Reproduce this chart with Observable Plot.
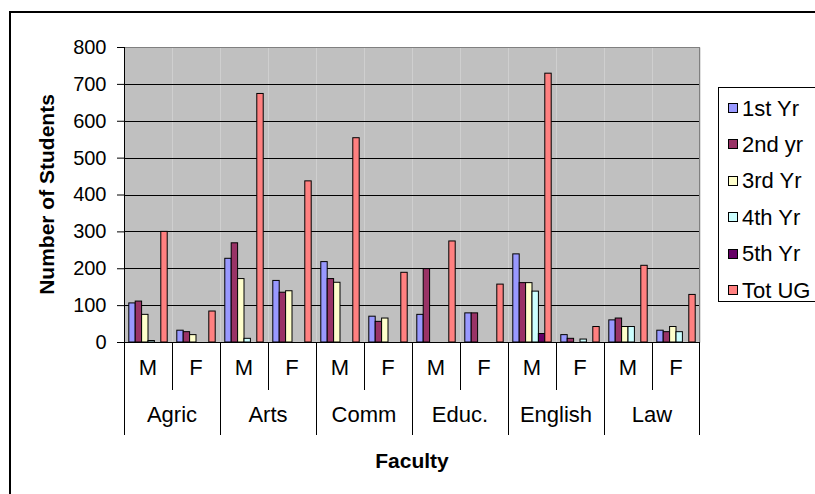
<!DOCTYPE html>
<html><head><meta charset="utf-8">
<script src="https://cdn.jsdelivr.net/npm/d3@7"></script>
<script src="https://cdn.jsdelivr.net/npm/@observablehq/plot@0.6"></script>
<style>
body{margin:0;background:#fff;}
#chart{position:relative;width:815px;height:494px;overflow:hidden;}
svg{display:block;}
</style></head><body><div id="chart"></div>
<script>
// ---- data ----
const faculties = ["Agric", "Arts", "Comm", "Educ.", "English", "Law"];
const genders = ["M", "F"];
const seriesNames = ["1st Yr", "2nd yr", "3rd Yr", "4th Yr", "5th Yr", "Tot UG"];
const seriesColors = ["#9999ff", "#993366", "#ffffcc", "#ccffff", "#660066", "#ff8080"];
const yTicks = [0, 100, 200, 300, 400, 500, 600, 700, 800];
// order: Agric M, Agric F, Arts M, Arts F, Comm M, Comm F, Educ M, Educ F, English M, English F, Law M, Law F
const firstYr  = [106, 32, 227, 167, 218, 70, 75, 79, 239, 20, 60, 32];
const secondYr = [111, 28, 269, 135, 172, 56, 199, 79, 161, 10, 65, 28];
const thirdYr  = [75, 20, 172, 139, 162, 65, 0, 0, 161, 0, 42, 42];
const fourthYr = [4, 0, 10, 0, 0, 0, 0, 0, 138, 8, 42, 28];
const fifthYr  = [0, 0, 0, 0, 0, 0, 0, 0, 23, 0, 0, 0];
const totUG    = [300, 84, 674, 437, 554, 189, 274, 157, 729, 42, 208, 129];
const xTitle = "Faculty";
const yTitle = "Number of Students";

// ---- build table ----
const seriesValues = [firstYr, secondYr, thirdYr, fourthYr, fifthYr, totUG];
const groups = faculties.flatMap(f => genders.map(g => f + "|" + g));
const rows = [];
groups.forEach((grp, i) => seriesNames.forEach((s, j) => {
  const v = seriesValues[j][i];
  if (v > 0) rows.push({group: grp, series: s, value: v});
}));

const W = 815, H = 494, mL = 124, mR = 115, mT = 47, mB = 152;
const FONT = "'Liberation Sans', Arial, sans-serif";

const chart = Plot.plot({
  width: W, height: H,
  marginLeft: mL, marginRight: mR, marginTop: mT, marginBottom: mB,
  style: {fontFamily: FONT, fontSize: "20px", color: "#000", background: "transparent", overflow: "visible"},
  facet: {data: rows, x: "group"},
  fx: {domain: groups, padding: 0, axis: null, round: false, label: null},
  x: {domain: seriesNames, paddingInner: 0, paddingOuter: 0.75, axis: null, round: false},
  y: {domain: [0, 800], ticks: yTicks, tickSize: 7, tickPadding: 11, label: null, tickFormat: d => String(d)},
  color: {domain: seriesNames, range: seriesColors},
  marks: [
    Plot.frame({fill: "#c0c0c0"}),
    Plot.ruleY(yTicks.slice(1, -1), {stroke: "#000", strokeWidth: 1, shapeRendering: "crispEdges"}),
    Plot.barY(rows, {x: "series", y: "value", fill: "series", stroke: "#000", strokeWidth: 1})
  ]
});
document.getElementById("chart").appendChild(chart);

// ---- scale helpers ----
const fxS = chart.scale("fx");
const yS = chart.scale("y");
const step = (fxS.range[1] - fxS.range[0]) / groups.length;
const fxLeft = k => fxS.range[0] + groups.indexOf(k) * step;
const yPos = v => yS.range[0] + (v - yS.domain[0]) / (yS.domain[1] - yS.domain[0]) * (yS.range[1] - yS.range[0]);
const x0 = fxS.range[0], x1 = fxS.range[1];
const yBase = yPos(0), yTop = yPos(800);

const svg = d3.select(chart);
const g = svg.append("g").attr("font-family", FONT).attr("fill", "#000").attr("text-anchor", "start");

// plot area border (grey) + axes lines
g.append("line").attr("x1", x0).attr("x2", x1).attr("y1", yTop + 0.5).attr("y2", yTop + 0.5).attr("stroke", "#808080");
g.append("line").attr("x1", x1 - 0.5).attr("x2", x1 - 0.5).attr("y1", yTop).attr("y2", yBase).attr("stroke", "#808080");
g.append("line").attr("x1", x0 + 0.5).attr("x2", x0 + 0.5).attr("y1", yTop).attr("y2", yBase).attr("stroke", "#000");
g.append("line").attr("x1", x0).attr("x2", x1).attr("y1", yBase + 0.5).attr("y2", yBase + 0.5).attr("stroke", "#000");

// two-level category axis
const yGender = yBase + 48, yFaculty = yBase + 93;
faculties.forEach((f, fi) => {
  const left = fxLeft(f + "|M");
  const mid = fxLeft(f + "|F");
  g.append("line").attr("x1", Math.round(left) + 0.5).attr("x2", Math.round(left) + 0.5)
    .attr("y1", yBase).attr("y2", yFaculty).attr("stroke", "#000");
  g.append("line").attr("x1", Math.round(mid) + 0.5).attr("x2", Math.round(mid) + 0.5)
    .attr("y1", yBase).attr("y2", yGender).attr("stroke", "#000");
  genders.forEach(gd => {
    g.append("text").attr("x", fxLeft(f + "|" + gd) + step / 2).attr("y", (yBase + yGender) / 2 + 1)
      .attr("text-anchor", "middle").attr("dominant-baseline", "central").attr("font-size", 22).text(gd);
  });
  g.append("text").attr("x", mid).attr("y", (yGender + yFaculty) / 2 + 2)
    .attr("text-anchor", "middle").attr("dominant-baseline", "central").attr("font-size", 22).text(f);
});
g.append("line").attr("x1", x1 - 0.5).attr("x2", x1 - 0.5).attr("y1", yBase).attr("y2", yFaculty).attr("stroke", "#000");

// axis titles
g.append("text").attr("x", (x0 + x1) / 2).attr("y", 460).attr("text-anchor", "middle")
  .attr("dominant-baseline", "central").attr("font-size", 21).attr("font-weight", "bold").text(xTitle);
g.append("text").attr("transform", `translate(46,${(yTop + yBase) / 2}) rotate(-90)`).attr("text-anchor", "middle")
  .attr("dominant-baseline", "central").attr("font-size", 21).attr("font-weight", "bold").text(yTitle);

// legend
const color = chart.scale("color");
const lg = g.append("g");
lg.append("rect").attr("x", 718.5).attr("y", 87.5).attr("width", 200).attr("height", 214)
  .attr("fill", "#fff").attr("stroke", "#000");
seriesNames.forEach((s, i) => {
  const cy = 108 + i * 36.4;
  lg.append("rect").attr("x", 728.5).attr("y", Math.round(cy - 5) + 0.5).attr("width", 9).attr("height", 9)
    .attr("fill", color.range[color.domain.indexOf(s)]).attr("stroke", "#000");
  lg.append("text").attr("x", 742).attr("y", cy).attr("text-anchor", "start")
    .attr("dominant-baseline", "central").attr("font-size", 22).text(s);
});

// chart outer border
g.append("rect").attr("x", 10).attr("y", 12).attr("width", 900).attr("height", 600)
  .attr("fill", "none").attr("stroke", "#000").attr("stroke-width", 2);
</script></body></html>
